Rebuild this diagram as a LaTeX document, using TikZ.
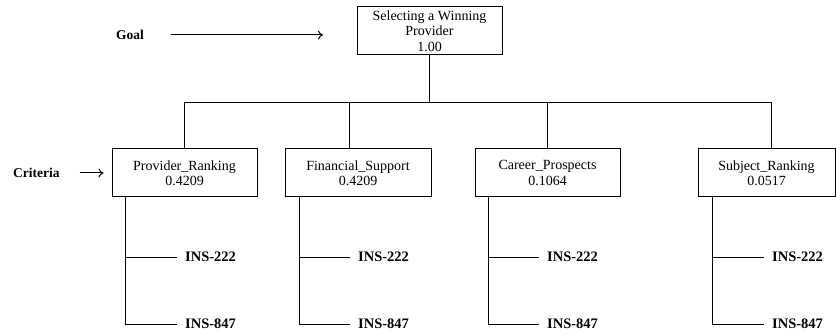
\documentclass[tikz,border=0pt]{standalone}
\usepackage{fontspec}
\setmainfont{Liberation Serif}
\usetikzlibrary{arrows.meta}

\begin{document}
\begin{tikzpicture}[x=1pt,y=-1pt,
  critbox/.style={draw,line width=1pt,minimum height=48pt,align=center,inner sep=0pt,font=\fontsize{14}{15.5}\selectfont},
  leaflbl/.style={anchor=west,inner xsep=8pt,inner ysep=0pt,font=\fontsize{14.5}{16}\selectfont\bfseries},
  sidelbl/.style={anchor=west,inner sep=0pt,font=\fontsize{13.5}{16}\selectfont\bfseries},
  link/.style={line width=1pt},
  pointer/.style={line width=1pt,-{To[length=5pt,width=9pt]}}]
\path[use as bounding box,fill=white] (0,0) rectangle (836,334);

% goal level
\node[critbox,minimum width=145pt] (goal) at (429.5,31) {Selecting a Winning\\Provider\\1.00};
\node[sidelbl] (goallbl) at (116,35) {Goal};
\coordinate (goaltip) at (323,35);
\draw[pointer,shorten <=27pt] (goallbl.east) -- (goaltip);

% criteria level
\node[critbox,minimum width=145pt] (c1) at (184.5,173) {Provider\_Ranking\\0.4209};
\node[critbox,minimum width=146pt] (c2) at (358,173) {Financial\_Support\\0.4209};
\node[critbox,minimum width=145pt] (c3) at (547.5,173) {Career\_Prospects\\0.1064};
\node[critbox,minimum width=137pt] (c4) at (766.5,173) {Subject\_Ranking\\0.0517};
\node[sidelbl] (critlbl) at (13,173) {Criteria};
\draw[pointer,shorten <=20pt] (critlbl.east) -- ([xshift=-8pt]c1.west);

\draw[link] (goal.south) -- ++(0,47) coordinate (bar);
\draw[link] (c1.north) |- (bar);
\draw[link] ([xshift=-9pt]c2.north) |- (bar);
\draw[link] (c3.north) |- (bar);
\draw[link] ([xshift=4.5pt]c4.north) |- (bar);

% alternatives
\node[leaflbl] (p1a) at (177,257) {INS-222};
\node[leaflbl] (p1b) at (177,324) {INS-847};
\node[leaflbl] (p2a) at (350,257) {INS-222};
\node[leaflbl] (p2b) at (350,324) {INS-847};
\node[leaflbl] (p3a) at (539,257) {INS-222};
\node[leaflbl] (p3b) at (539,324) {INS-847};
\node[leaflbl] (p4a) at (764,257) {INS-222};
\node[leaflbl] (p4b) at (764,324) {INS-847};

\draw[link] ([xshift=14pt]c1.south west) |- (p1a.west);
\draw[link] ([xshift=14pt]c1.south west) |- (p1b.west);
\draw[link] ([xshift=15pt]c2.south west) |- (p2a.west);
\draw[link] ([xshift=15pt]c2.south west) |- (p2b.west);
\draw[link] ([xshift=14pt]c3.south west) |- (p3a.west);
\draw[link] ([xshift=14pt]c3.south west) |- (p3b.west);
\draw[link] ([xshift=15pt]c4.south west) |- (p4a.west);
\draw[link] ([xshift=15pt]c4.south west) |- (p4b.west);
\end{tikzpicture}
\end{document}
